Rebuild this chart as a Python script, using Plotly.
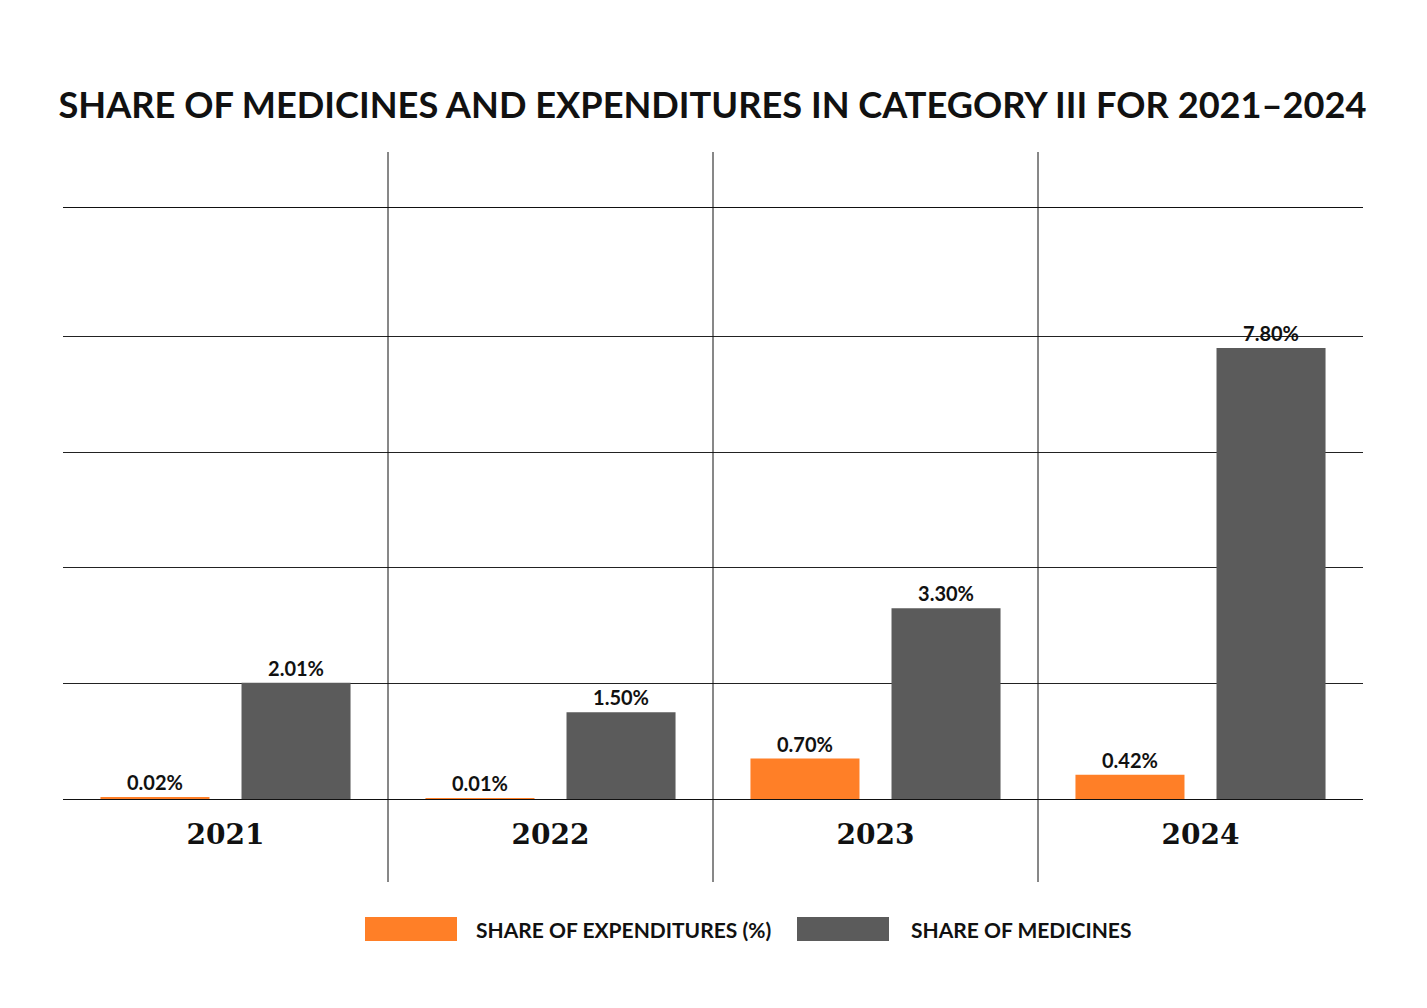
import plotly.graph_objects as go

years = ["2021", "2022", "2023", "2024"]
expenditures = [0.02, 0.01, 0.70, 0.42]
medicines = [2.01, 1.50, 3.30, 7.80]
series_names = ["SHARE OF EXPENDITURES (%)", "SHARE OF MEDICINES"]
colors = ["#FF7F27", "#5B5B5B"]

OFF = 8  # page body margin
W, H = 1419, 1000
# target plot area in screen px: x 63..1363, y 208..799
L = 63 - OFF
T = 208 - OFF
R = OFF + W - 1363
B = OFF + H - 799
pw, ph = W - L - R, H - T - B

def px_x(x):
    return (x - OFF - L) / pw

def px_y(y):
    return (OFF + H - B - y) / ph

fig = go.Figure()
for name, vals, col in zip(series_names, [expenditures, medicines], colors):
    fig.add_trace(go.Bar(
        x=years, y=vals, name=name, marker=dict(color=col, line=dict(width=0)),
        text=[f"<b>{v:.2f}%</b>" for v in vals], textposition="outside",
        textfont=dict(family="Lato, 'Open Sans', sans-serif", size=20, color="#111"),
        cliponaxis=False, showlegend=False,
    ))

shapes = []
for i in range(len(years) - 1):
    shapes.append(dict(type="line", xref="x", yref="paper", x0=i + 0.5, x1=i + 0.5,
                       y0=px_y(882), y1=px_y(152), line=dict(color="#111", width=1)))

annotations = []
legend_items = [(365, 457, 474), (797, 889, 909)]
for (x0, x1, tx), name, col in zip(legend_items, series_names, colors):
    shapes.append(dict(type="rect", xref="paper", yref="paper",
                       x0=px_x(x0), x1=px_x(x1), y0=px_y(941), y1=px_y(917),
                       fillcolor=col, line=dict(width=0)))
    annotations.append(dict(xref="paper", yref="paper", x=px_x(tx), y=px_y(929),
                            xanchor="left", yanchor="middle", showarrow=False,
                            text=f"<b>{name}</b>",
                            font=dict(family="Lato, 'Open Sans', sans-serif", size=21, color="#111")))

fig.update_layout(
    width=W, height=H,
    margin=dict(l=L, r=R, t=T, b=B, autoexpand=False),
    paper_bgcolor="white", plot_bgcolor="white",
    barmode="group", bargap=0.132, bargroupgap=0.227,
    title=dict(text="<b>SHARE OF MEDICINES AND EXPENDITURES IN CATEGORY III FOR 2021–2024</b>",
               x=(712.5 - OFF) / W, xanchor="center", y=1 - (105 - OFF) / H, yanchor="middle",
               font=dict(family="Lato, 'Open Sans', sans-serif", size=36.2, color="#111")),
    shapes=shapes, annotations=annotations,
    xaxis=dict(showline=True, mirror=True, linecolor="#111", linewidth=1, showgrid=False,
               ticks="", tickfont=dict(family="'DejaVu Serif', serif", size=28, color="#111"),
               ticklabelstandoff=10, tickprefix="<b>", ticksuffix="</b>"),
    yaxis=dict(range=[0, 10.22], tickvals=[0, 2, 4, 6, 8], showgrid=True, gridcolor="#222",
               gridwidth=1, showticklabels=False, zeroline=False, showline=False, ticks=""),
)
fig.write_html("out.html")
